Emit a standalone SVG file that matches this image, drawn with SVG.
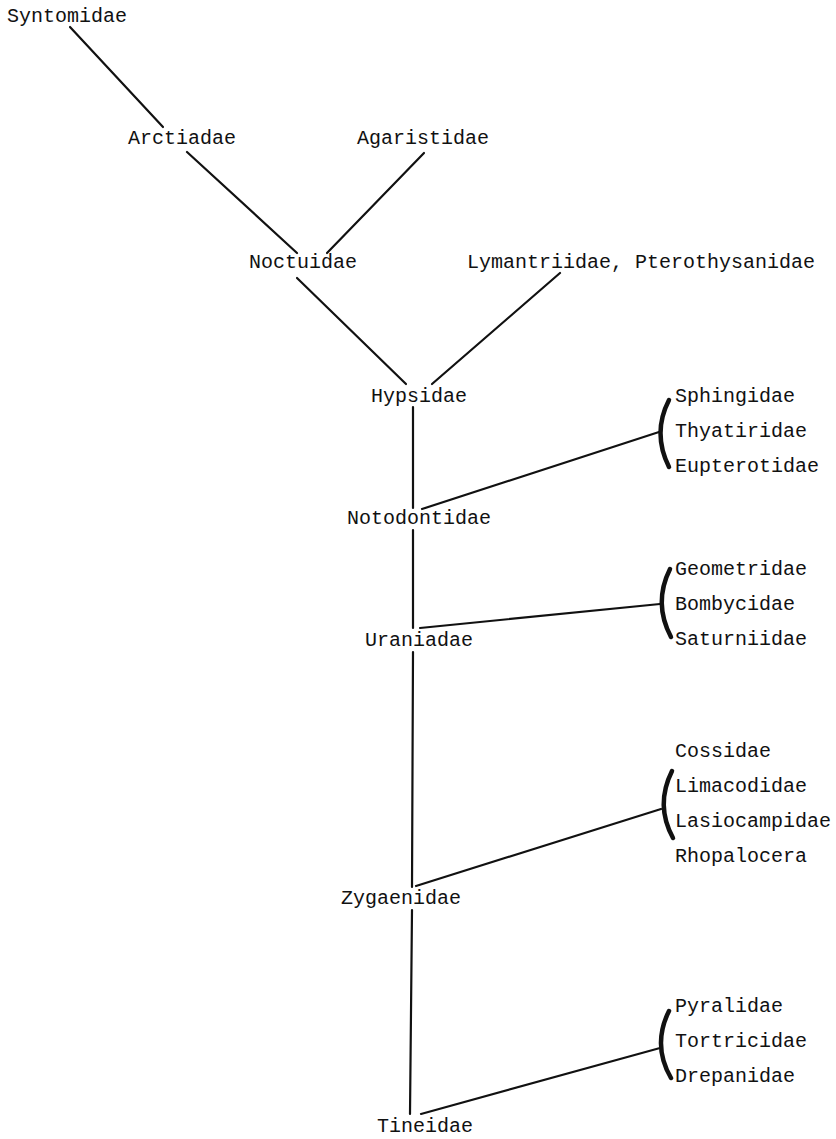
<svg xmlns="http://www.w3.org/2000/svg" width="836" height="1139" viewBox="0 0 836 1139">
<style>
text{font-family:"Liberation Mono","DejaVu Sans Mono",monospace;font-size:20px;fill:#111}
.e{stroke:#111;stroke-width:2.2;fill:none;stroke-linecap:round}
.b{stroke:#111;stroke-width:4.5;fill:none;stroke-linecap:round}
</style>
<rect width="836" height="1139" fill="#fff"/>
<g id="connectors">
<line class="e" x1="70" y1="27" x2="163" y2="127"/>
<line class="e" x1="187" y1="152" x2="297" y2="253"/>
<line class="e" x1="424" y1="153" x2="327" y2="253"/>
<line class="e" x1="297" y1="278" x2="406" y2="384"/>
<line class="e" x1="560" y1="273" x2="432" y2="384"/>
<line class="e" x1="413" y1="407" x2="413" y2="508"/>
<line class="e" x1="422" y1="509" x2="659" y2="432"/>
<line class="e" x1="413" y1="530" x2="413" y2="628"/>
<line class="e" x1="420" y1="628" x2="660" y2="604"/>
<line class="e" x1="413" y1="652" x2="412" y2="887"/>
<line class="e" x1="416" y1="886" x2="661" y2="809"/>
<line class="e" x1="412" y1="910" x2="410" y2="1114"/>
<line class="e" x1="421" y1="1114" x2="660" y2="1048"/>
<path class="b" d="M669,400 Q652,433 669,467"/>
<path class="b" d="M670,569 Q653,603 671,637"/>
<path class="b" d="M672,771 Q655,805 673,838"/>
<path class="b" d="M669,1011 Q652,1045 671,1078"/>
</g>
<g id="n-syntomidae"><text x="7" y="22">Syntomidae</text></g>
<g id="n-arctiadae"><text x="128" y="144">Arctiadae</text></g>
<g id="n-agaristidae"><text x="357" y="144">Agaristidae</text></g>
<g id="n-noctuidae"><text x="249" y="268">Noctuidae</text></g>
<g id="n-lymantriidae"><text x="467" y="268">Lymantriidae, Pterothysanidae</text></g>
<g id="n-hypsidae"><text x="371" y="402">Hypsidae</text></g>
<g id="n-notodontidae"><text x="347" y="524">Notodontidae</text></g>
<g id="n-uraniadae"><text x="365" y="646">Uraniadae</text></g>
<g id="n-zygaenidae"><text x="341" y="904">Zygaenidae</text></g>
<g id="n-tineidae"><text x="377" y="1132">Tineidae</text></g>
<g id="n-group1">
<text x="675" y="402">Sphingidae</text>
<text x="675" y="437">Thyatiridae</text>
<text x="675" y="472">Eupterotidae</text>
</g>
<g id="n-group2">
<text x="675" y="575">Geometridae</text>
<text x="675" y="610">Bombycidae</text>
<text x="675" y="645">Saturniidae</text>
</g>
<g id="n-group3">
<text x="675" y="757">Cossidae</text>
<text x="675" y="792">Limacodidae</text>
<text x="675" y="827">Lasiocampidae</text>
<text x="675" y="862">Rhopalocera</text>
</g>
<g id="n-group4">
<text x="675" y="1012">Pyralidae</text>
<text x="675" y="1047">Tortricidae</text>
<text x="675" y="1082">Drepanidae</text>
</g>
</svg>
